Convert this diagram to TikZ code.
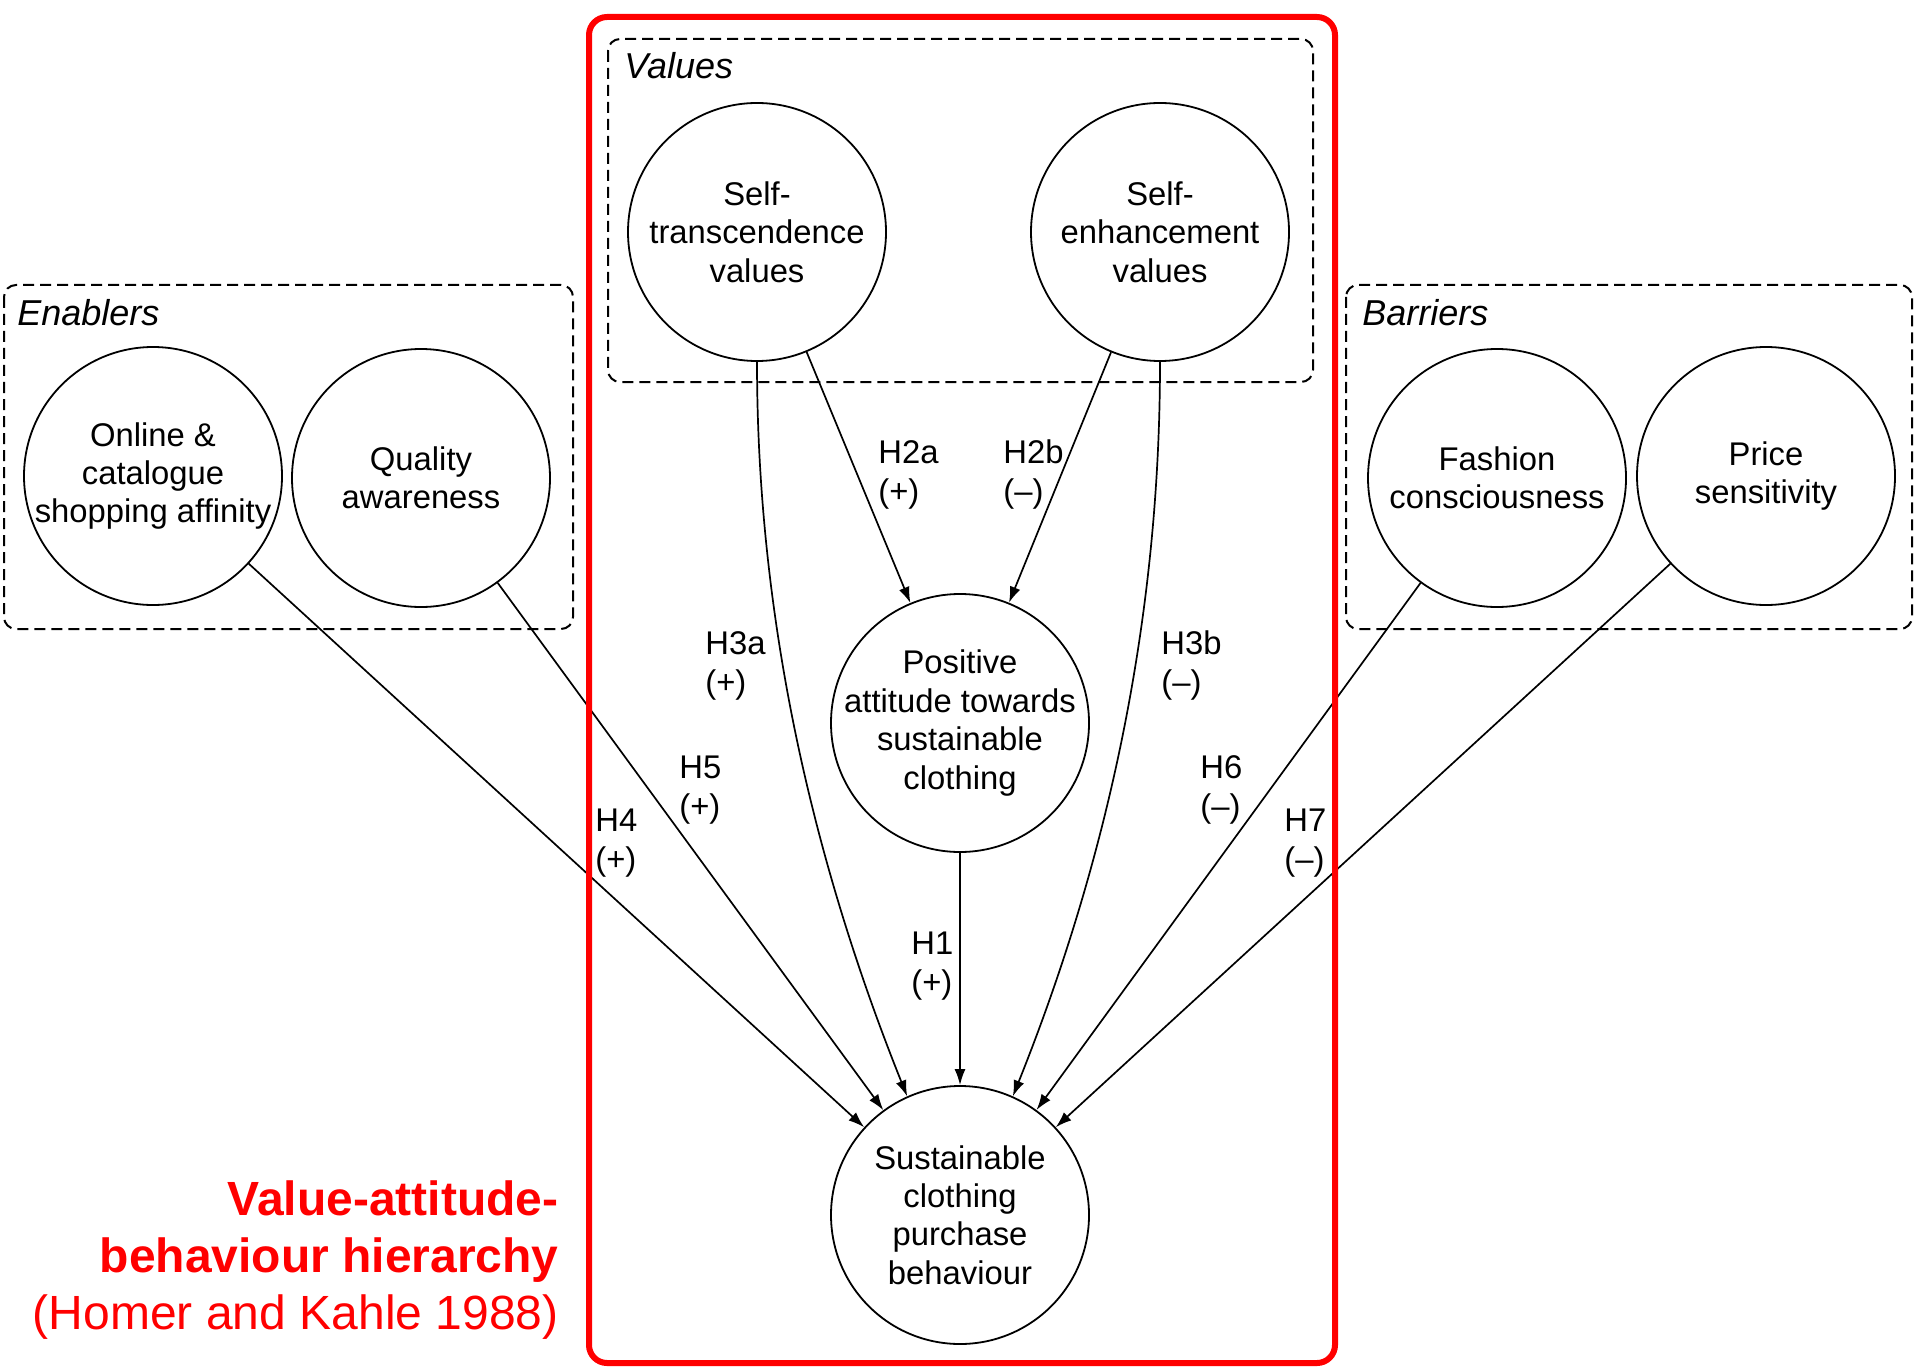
\documentclass[tikz,border=0pt]{standalone}
\usepackage{fontspec}
\setmainfont{Liberation Sans}
\usetikzlibrary{arrows.meta}
\definecolor{redframe}{RGB}{255,0,0}
\begin{document}
\begin{tikzpicture}[x=0.5pt,y=-0.5pt,
  circ/.style={circle,draw,line width=0.9pt,minimum size=129pt,inner sep=0pt,
    label={[align=center,inner sep=0pt,font=\fontsize{16.4pt}{19.2pt}\selectfont]center:#1}},
  grp/.style={draw,dash pattern=on 5.5pt off 3pt,line width=1pt,rounded corners=6pt},
  grplabel/.style={anchor=west,font=\fontsize{18pt}{21pt}\selectfont\itshape,inner sep=0pt},
  conn/.style={line width=0.85pt,-{Latex[length=8pt,width=5.5pt]}},
  hyp/.style={anchor=west,align=left,inner sep=0pt,font=\fontsize{16.4pt}{19.5pt}\selectfont},
]
\useasboundingbox (0,0) rectangle (1915,1369);

% group boxes
\draw[grp] (608,39) rectangle (1313,382);
\draw[grp] (4,285) rectangle (573,629);
\draw[grp] (1346,285) rectangle (1912,629);
\node[grplabel] (lvalues) at (624,66) {Values};
\node[grplabel] (lenablers) at (17,313) {Enablers};
\node[grplabel] (lbarriers) at (1362,313) {Barriers};

% circles
\node[circ={Self-\\transcendence\\values}] (st) at (757,232) {};
\node[circ={Self-\\enhancement\\values}] (se) at (1160,232) {};
\node[circ={Online \&\\catalogue\\shopping affinity}] (onl) at (153,476) {};
\node[circ={Quality\\awareness}] (qa) at (421,478) {};
\node[circ={Fashion\\consciousness}] (fc) at (1497,478) {};
\node[circ={Price\\sensitivity}] (ps) at (1766,476) {};
\node[circ={Positive\\attitude towards\\sustainable\\clothing}] (pos) at (960,723) {};
\node[circ={Sustainable\\clothing\\purchase\\behaviour}] (sust) at (960,1215) {};

% connectors
\draw[conn] (st) -- (pos);
\draw[conn] (se) -- (pos);
\draw[conn] (pos) -- (sust);
\draw[conn] (st.south) .. controls +(0,242) and +(-101,-252) .. (sust.114);
\draw[conn] (se.south) .. controls +(0,242) and +(101,-252) .. (sust.66);
\draw[conn] (onl) -- (sust);
\draw[conn] (qa) -- (sust);
\draw[conn] (fc) -- (sust);
\draw[conn] (ps) -- (sust);

% hypothesis labels
\node[hyp] (h2a) at (878,475) {H2a\\(+)};
\node[hyp] (h2b) at (1003,475) {H2b\\(–)};
\node[hyp] (h3a) at (705,666) {H3a\\(+)};
\node[hyp] (h3b) at (1161,666) {H3b\\(–)};
\node[hyp] (h5) at (679,790) {H5\\(+)};
\node[hyp] (h4) at (595,843) {H4\\(+)};
\node[hyp] (h6) at (1200,790) {H6\\(–)};
\node[hyp] (h7) at (1284,843) {H7\\(–)};
\node[hyp] (h1) at (911,966) {H1\\(+)};

% red frame and title
\draw[redframe,line width=3pt,rounded corners=9pt] (589,17) rectangle (1335,1363);
\node[anchor=east,align=right,inner sep=0pt,text=redframe,font=\fontsize{24pt}{28.4pt}\selectfont] (title) at (559,1260)
  {\textbf{Value-attitude-}\\\textbf{behaviour hierarchy}\\(Homer and Kahle 1988)};
\end{tikzpicture}
\end{document}
